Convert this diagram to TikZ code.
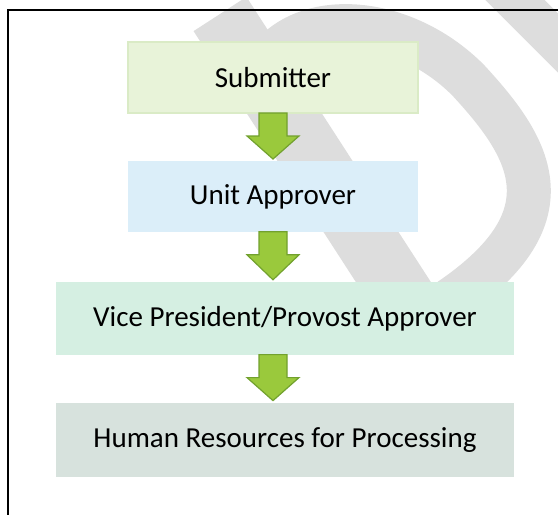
\documentclass[tikz,border=0pt]{standalone}
\usepackage{fontspec}
\setmainfont{Carlito}
\usetikzlibrary{positioning, calc}

\definecolor{subfill}{HTML}{E8F3D9}
\definecolor{subline}{HTML}{DAEBC6}
\definecolor{unitfill}{HTML}{DBEEF9}
\definecolor{vpfill}{HTML}{D5EFE2}
\definecolor{hrfill}{HTML}{D7E2DD}
\definecolor{arrowfill}{HTML}{9AC93C}
\definecolor{arrowline}{HTML}{72A12E}
\definecolor{wmark}{HTML}{DDDDDD}

\newcommand{\flowstep}[2]{%
  \draw[flowarrow] let \p1=(#1), \p2=(#2) in
    (\x1-7pt,\y1+0.5pt) -- (\x1+7pt,\y1+0.5pt) -- (\x1+7pt,\y1-11pt) -- (\x1+13pt,\y1-11pt)
    -- (\x1,\y2+1pt) -- (\x1-13pt,\y1-11pt) -- (\x1-7pt,\y1-11pt) -- cycle;}

\begin{document}
\begin{tikzpicture}[x=0.5pt, y=-0.5pt, node distance=23.5pt,
  stepbox/.style={rectangle, inner sep=0pt, font=\fontsize{14.5pt}{17pt}\selectfont},
  flowarrow/.style={fill=arrowfill, draw=arrowline, line width=0.6pt, line join=miter}]
\useasboundingbox (0,0) rectangle (558,515);

\begin{scope}
\clip (0,0) rectangle (558,515);
\draw[wmark, line width=31.5pt] (220,14) -- (405,300);
\draw[wmark, line width=22pt] (262,70) .. controls (295,8) and (400,12) .. (468,80)
  .. controls (528,145) and (575,215) .. (450,300);
\draw[wmark, line width=21pt] (495,-20) -- (615,100);
\end{scope}

\draw[line width=1pt] (558,10) -- (8,10) -- (8,515);

\node[stepbox, fill=subfill, draw=subline, line width=1pt, minimum width=145pt, minimum height=35.5pt] (submitter) at (273,77.5) {Submitter};
\node[stepbox, fill=unitfill, minimum width=145pt, minimum height=35.5pt, below=of submitter] (unitapp) {Unit Approver};
\node[stepbox, fill=vpfill, minimum width=229pt, minimum height=36.5pt, below=24.5pt of unitapp, xshift=6pt] (vpapp) {Vice President/Provost Approver};
\node[stepbox, fill=hrfill, minimum width=229pt, minimum height=37pt, below=of vpapp] (hrproc) {Human Resources for Processing};

\flowstep{submitter.south}{unitapp.north}
\flowstep{unitapp.south}{vpapp.north}
\flowstep{vpapp.south -| unitapp.south}{hrproc.north}
\end{tikzpicture}
\end{document}
